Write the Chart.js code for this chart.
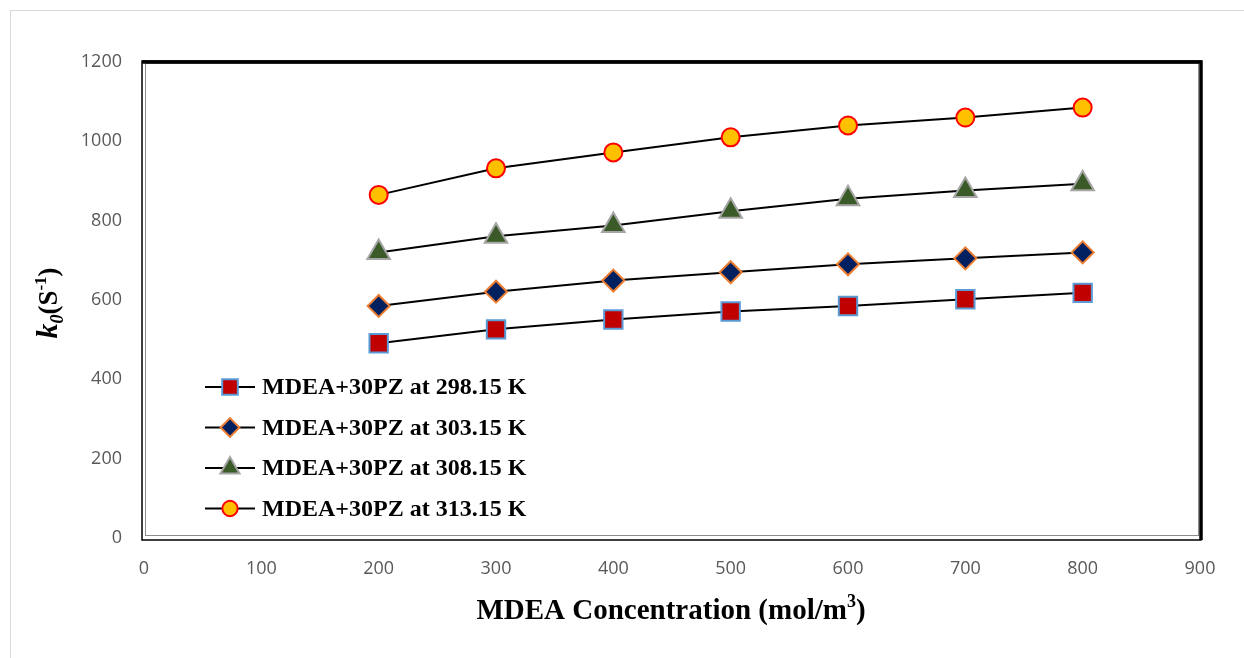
<!DOCTYPE html>
<html>
<head>
<meta charset="utf-8">
<script src="https://cdn.jsdelivr.net/npm/chart.js@4.4.1/dist/chart.umd.min.js"></script>
<style>
  html,body{margin:0;padding:0;background:#fff;}
  #frame{position:absolute;left:10px;top:10px;width:1250px;height:660px;border:1px solid #d9d9d9;}
  #wrap{position:absolute;left:0;top:0;width:1244px;height:658px;}
</style>
</head>
<body>
<div id="frame"></div>
<div id="wrap"><canvas id="c"></canvas></div>
<script>
// ====== Data ======
const conc   = [200, 300, 400, 500, 600, 700, 800]; // MDEA mol/m3
const k298   = [491, 526, 551, 571, 585, 602, 618];
const k303   = [585, 621, 649, 670, 690, 705, 720];
const k308   = [720, 761, 788, 824, 855, 876, 893];
const k313   = [865, 932, 972, 1010, 1040, 1060, 1085];
const labels = ['MDEA+30PZ at 298.15 K','MDEA+30PZ at 303.15 K','MDEA+30PZ at 308.15 K','MDEA+30PZ at 313.15 K'];

const pts = arr => arr.map((v,i)=>({x:conc[i], y:v}));
const ds = (i,data,style,fill,border,r) => ({
  label: labels[i], data: pts(data), borderColor:'#000', borderWidth:2, tension:0,
  pointStyle:style, pointRadius:r, pointHoverRadius:r, pointBackgroundColor:fill,
  pointBorderColor:border, pointBorderWidth:2
});

// ====== Plugins (frame, legend, titles) ======
const deco = {
  id:'deco',
  beforeDatasetsDraw(chart){
    const {ctx, chartArea:a} = chart;
    ctx.save();
    // double frame
    ctx.strokeStyle='#000'; ctx.lineWidth=1.5;
    ctx.strokeRect(a.left-2, a.top-1, a.right-a.left+3, a.bottom-a.top+3);
    ctx.strokeStyle='#8c8c8c'; ctx.lineWidth=1;
    ctx.strokeRect(a.left+1.5, a.top+1.5, a.right-a.left-3, a.bottom-a.top-4);
    ctx.strokeStyle='#000'; ctx.lineWidth=3.5;
    ctx.beginPath(); ctx.moveTo(a.left-2, a.top); ctx.lineTo(a.right+1, a.top); ctx.lineTo(a.right+1, a.bottom+2); ctx.stroke();
    ctx.restore();
  },
  afterDraw(chart){
    const {ctx} = chart;
    ctx.save();
    // legend
    chart.data.datasets.forEach((d,i)=>{
      const y = 387 + i*40.5;
      ctx.strokeStyle='#000'; ctx.lineWidth=2;
      ctx.beginPath(); ctx.moveTo(205,y); ctx.lineTo(255,y); ctx.stroke();
      ctx.fillStyle=d.pointBackgroundColor; ctx.strokeStyle=d.pointBorderColor; ctx.lineWidth=2;
      Chart.helpers.drawPoint(ctx,{pointStyle:d.pointStyle, rotation:0, borderWidth:2, radius:d.pointRadius*0.85}, 230, y);
      ctx.fillStyle='#000'; ctx.font='bold 24px "Liberation Serif"'; ctx.textBaseline='middle'; ctx.textAlign='left';
      ctx.fillText(d.label, 262, y+1);
    });
    // x title
    ctx.fillStyle='#000'; ctx.textBaseline='alphabetic';
    const f1='bold 29px "Liberation Serif"', f2='bold 18px "Liberation Serif"';
    const t1='MDEA Concentration (mol/m', t2='3', t3=')';
    ctx.font=f1; const w1=ctx.measureText(t1).width, w3=ctx.measureText(t3).width;
    ctx.font=f2; const w2=ctx.measureText(t2).width;
    let x = 671 - (w1+w2+w3)/2;
    ctx.textAlign='left';
    ctx.font=f1; ctx.fillText(t1,x,619); x+=w1;
    ctx.font=f2; ctx.fillText(t2,x,607); x+=w2;
    ctx.font=f1; ctx.fillText(t3,x,619);
    // y title
    ctx.translate(57,303); ctx.rotate(-Math.PI/2);
    const parts=[['k','bold italic 30px "Liberation Serif"',0],['0','bold italic 18px "Liberation Serif"',6],
                 ['(S','bold 27px "Liberation Serif"',0],['-1','bold 17px "Liberation Serif"',-11],[')','bold 27px "Liberation Serif"',0]];
    let tw=0; parts.forEach(p=>{ctx.font=p[1]; tw+=ctx.measureText(p[0]).width;});
    let px=-tw/2;
    parts.forEach(p=>{ctx.font=p[1]; ctx.fillText(p[0],px,p[2]); px+=ctx.measureText(p[0]).width;});
    ctx.restore();
  }
};

// ====== Chart ======
new Chart(document.getElementById('c'), {
  type:'line',
  data:{ datasets:[
    ds(0,k298,'rect','#C00000','#5B9BD5',13),
    ds(1,k303,'rectRot','#002060','#ED7D31',11),
    ds(2,k308,'triangle','#3A5A27','#A5A5A5',13),
    ds(3,k313,'circle','#FFC000','#FF0000',9)
  ]},
  options:{
    responsive:true, maintainAspectRatio:false, animation:false,
    layout:{padding:{top:62, right:44, left:0, bottom:0}},
    plugins:{legend:{display:false}, tooltip:{enabled:false}},
    scales:{
      x:{type:'linear', min:0, max:900,
         ticks:{stepSize:100, color:'#595959', font:{family:'"Open Sans"', size:18}, padding:20, maxRotation:0, callback:v=>String(v)},
         grid:{display:false, drawTicks:false}, border:{display:false},
         afterFit(s){ s.height=120; }},
      y:{min:0, max:1200,
         ticks:{stepSize:200, color:'#595959', font:{family:'"Open Sans"', size:18}, padding:22, callback:v=>String(v)},
         grid:{display:false, drawTicks:false}, border:{display:false},
         afterFit(s){ s.width=144; }}
    }
  },
  plugins:[deco]
});
</script>
</body>
</html>
